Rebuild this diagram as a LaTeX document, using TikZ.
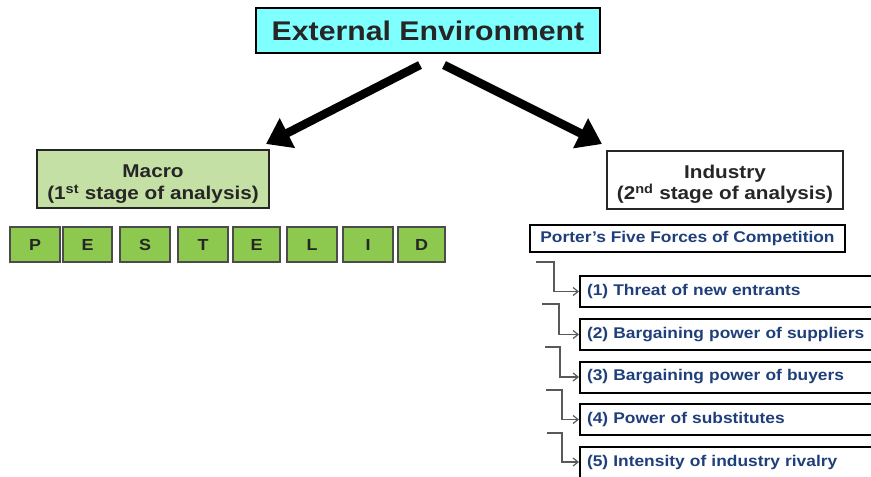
\documentclass[tikz,border=0pt]{standalone}
\usepackage{fontspec}
\setmainfont[FakeStretch=1.12]{Liberation Sans}
\usetikzlibrary{arrows.meta}
\definecolor{cyanfill}{HTML}{80FFFF}
\definecolor{macrofill}{HTML}{C5E0A5}
\definecolor{letterfill}{HTML}{8DC84F}
\definecolor{forceblue}{HTML}{1F3F7A}
\tikzset{
  headbox/.style={draw=black, line width=2pt, fill=cyanfill, minimum width=344pt, minimum height=45pt,
    font=\fontsize{27}{30}\selectfont\bfseries, text=black!85},
  stagebox/.style={draw=black!85, line width=2pt, minimum height=58pt, align=center,
    font=\fontsize{18.5}{21.5}\selectfont\bfseries, text=black!85},
  letterbox/.style={draw=black!70, line width=1.2pt, fill=letterfill, minimum height=35pt,
    font=\fontsize{16}{18}\selectfont\bfseries, text=black!85},
  porterbox/.style={draw=black, line width=2pt, fill=white, minimum width=315pt, minimum height=27pt,
    font=\fontsize{15.5}{18}\selectfont\bfseries, text=forceblue},
  forcebox/.style={draw=black, line width=2pt, fill=white, minimum width=310pt, minimum height=31pt,
    anchor=west, text width=296pt, align=left, inner xsep=6pt,
    font=\fontsize{15.5}{18}\selectfont\bfseries, text=forceblue},
  bigarrow/.style={line width=8.5pt, -{Triangle[length=24pt,width=32pt]}},
  elbow/.style={draw=black!65, line width=1.2pt, -{Straight Barb[length=5pt,width=8pt]}}
}
\newcommand{\toppad}{\rule{0pt}{23pt}}
\begin{document}
\begin{tikzpicture}[x=1pt,y=-1pt]
  \useasboundingbox (0,0) rectangle (871,477);
  \clip (0,0) rectangle (871,477);

  % top heading
  \node[headbox] (ext) at (428,30.5) {External Environment};

  % the two stages of analysis
  \node[stagebox, fill=macrofill, minimum width=232pt] (macro) at (153,179)
    {\toppad Macro\\(1\textsuperscript{st} stage of analysis)};
  \node[stagebox, fill=white, minimum width=236pt] (industry) at (725,179.5)
    {\toppad Industry\\(2\textsuperscript{nd} stage of analysis)};

  % arrows from the heading to the stages
  \coordinate (la) at (420,65);
  \coordinate (lt) at (266,144);
  \coordinate (ra) at (444,65);
  \coordinate (rt) at (602,144);
  \draw[bigarrow] (la) -- (lt);
  \draw[bigarrow] (ra) -- (rt);

  % PESTELID letters
  \foreach \l/\cx/\w [count=\i] in {P/35/50, E/87.5/49, S/145/50, T/203/50,
                                    E/256.5/47, L/312/50, I/368/50, D/421.5/47}
    \node[letterbox, minimum width=\w pt] (let\i) at (\cx,244.5) {\l};

  % Porter's five forces
  \node[porterbox] (porter) at (687.5,238.5) {Porter’s Five Forces of Competition};

  \node[forcebox] (f1) at (579,291.5) {(1) Threat of new entrants};
  \node[forcebox] (f2) at (579,334.5) {(2) Bargaining power of suppliers};
  \node[forcebox] (f3) at (579,377) {(3) Bargaining power of buyers};
  \node[forcebox] (f4) at (579,419.5) {(4) Power of substitutes};
  \node[forcebox] (f5) at (579,462) {(5) Intensity of industry rivalry};

  % elbow connectors into each force
  \coordinate (s1) at (536,262);  \coordinate (k1) at (554,291.5);
  \coordinate (s2) at (542,304);  \coordinate (k2) at (559,334.5);
  \coordinate (s3) at (545,347);  \coordinate (k3) at (560,377);
  \coordinate (s4) at (546,390);  \coordinate (k4) at (562,419.5);
  \coordinate (s5) at (547,433);  \coordinate (k5) at (562,462);
  \foreach \i in {1,...,5}
    \draw[elbow] (s\i) -| (k\i) -- (f\i.west);
\end{tikzpicture}
\end{document}
